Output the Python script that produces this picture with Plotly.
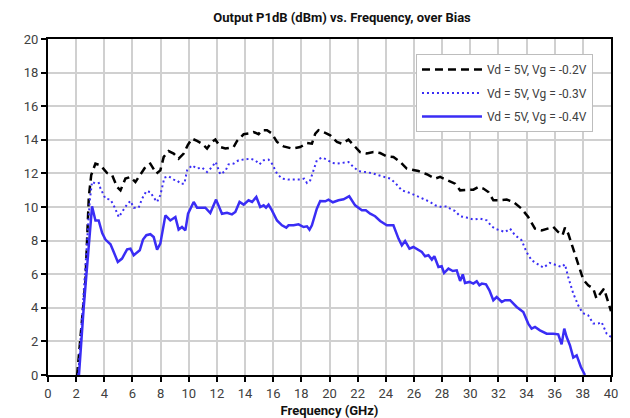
import plotly.graph_objects as go

title_text = "Output P1dB (dBm) vs. Frequency, over Bias"
x_title = "Frequency (GHz)"
names = ["Vd = 5V, Vg = -0.2V", "Vd = 5V, Vg = -0.3V", "Vd = 5V, Vg = -0.4V"]

f_02 = [2.07, 2.43, 2.66, 2.9, 3.07, 3.37, 3.73, 4.2, 4.56, 4.91, 5.15, 5.5, 5.86, 6.21, 6.61, 6.92, 7.27, 7.7, 7.98,
        8.22, 8.57, 8.93, 9.28, 9.64, 9.92, 10.23, 10.59, 10.94, 11.3, 11.65, 11.89, 12.24, 12.6, 13.19, 13.43, 13.9,
        14.25, 14.61, 14.96, 15.2, 15.56, 15.91, 16.27, 16.74, 17.33, 17.92, 18.4, 18.75, 18.99, 19.22, 19.7, 20.05,
        20.53, 20.88, 21.35, 21.7, 22.17, 22.65, 23.12, 23.6, 24.07, 24.54, 25.02, 25.49, 26.32, 26.91, 27.5, 27.86,
        28.45, 28.92, 29.28, 29.86, 30.22, 30.58, 30.93, 31.29, 31.64, 32.11, 32.59, 33.06, 33.65, 34.12, 34.6, 35.07,
        35.54, 35.9, 36.25, 36.56, 36.73, 36.96, 37.27, 37.67, 38.03, 38.38, 38.74, 38.97, 39.21, 39.5, 39.69, 40.0]
p_02 = [0.0, 3.3, 5.6, 10.6, 11.9, 12.58, 12.48, 12.02, 11.89, 11.19, 10.99, 11.69, 11.79, 11.49, 11.99, 12.38, 12.58,
        11.99, 12.18, 12.98, 13.33, 13.18, 12.88, 13.18, 13.67, 14.07, 13.93, 13.77, 13.48, 13.87, 14.02, 13.57, 13.48,
        13.57, 13.93, 14.33, 14.37, 14.46, 14.33, 14.57, 14.57, 14.37, 13.87, 13.61, 13.48, 13.57, 13.81, 13.77, 14.37,
        14.57, 14.41, 14.27, 13.87, 13.77, 14.01, 13.67, 13.27, 13.18, 13.27, 13.21, 13.02, 12.98, 12.68, 12.29, 12.14,
        11.95, 11.69, 11.79, 11.59, 11.39, 10.99, 10.99, 11.03, 11.19, 11.1, 10.89, 10.4, 10.4, 10.44, 10.3, 9.9, 9.4,
        8.71, 8.61, 8.71, 8.81, 8.51, 8.32, 8.77, 8.42, 7.62, 6.63, 5.68, 5.34, 5.14, 4.55, 4.85, 5.14, 4.64, 3.8]

f_03 = [2.15, 2.73, 2.97, 3.13, 3.37, 3.61, 3.73, 4.08, 4.44, 4.67, 5.03, 5.26, 5.62, 5.86, 6.09, 6.44, 6.69, 6.99, 7.27,
        7.51, 7.75, 7.98, 8.27, 8.57, 8.93, 9.17, 9.4, 9.69, 9.88, 10.23, 10.59, 10.94, 11.3, 11.65, 11.91, 12.24, 12.6,
        12.83, 13.19, 13.54, 13.9, 14.37, 14.73, 15.03, 15.32, 15.67, 15.91, 16.27, 16.62, 17.09, 17.57, 17.92, 18.2,
        18.4, 18.63, 18.87, 19.1, 19.46, 19.82, 20.18, 20.53, 20.88, 21.35, 21.7, 22.06, 22.54, 23.01, 23.48, 23.95,
        24.31, 24.66, 25.14, 25.73, 26.2, 26.79, 27.15, 27.5, 27.97, 28.33, 28.57, 28.92, 29.28, 29.75, 30.22, 30.69,
        31.17, 31.52, 31.76, 32.11, 32.47, 32.83, 33.18, 33.65, 34.0, 34.36, 34.72, 35.19, 35.66, 36.13, 36.49, 36.73,
        36.96, 37.32, 37.67, 37.98, 38.38, 38.74, 39.09, 39.33, 39.69, 40.0]
p_03 = [0.0, 7.6, 10.4, 11.5, 11.39, 11.43, 11.1, 10.5, 10.44, 10.1, 9.4, 9.7, 10.16, 10.36, 9.96, 9.96, 10.5, 10.95,
        10.89, 10.56, 10.3, 10.7, 11.75, 11.83, 11.63, 11.59, 11.39, 11.39, 12.18, 12.48, 12.29, 12.35, 12.08, 12.38,
        12.68, 11.95, 12.14, 12.54, 12.58, 12.78, 12.82, 12.88, 12.78, 12.54, 12.78, 12.82, 12.58, 11.99, 11.69, 11.63,
        11.63, 11.63, 11.69, 11.43, 11.59, 12.18, 12.78, 12.94, 12.82, 12.62, 12.58, 12.62, 12.68, 12.38, 12.14, 12.08,
        12.02, 11.89, 11.75, 11.69, 11.45, 10.99, 10.83, 10.64, 10.44, 10.3, 10.1, 10.0, 10.04, 9.9, 9.76, 9.45, 9.37,
        9.25, 9.31, 9.21, 8.85, 8.71, 8.61, 8.51, 8.71, 8.32, 8.02, 7.32, 6.83, 6.63, 6.39, 6.67, 6.53, 6.43, 6.59,
        5.83, 4.85, 4.15, 3.69, 3.55, 3.06, 3.06, 3.15, 2.46, 2.26]

f_04 = [2.2, 2.54, 3.13, 3.37, 3.6, 3.85, 4.08, 4.44, 4.67, 4.96, 5.26, 5.62, 5.86, 6.09, 6.52, 6.75, 6.99, 7.27, 7.51,
        7.75, 7.98, 8.34, 8.69, 9.05, 9.28, 9.52, 9.76, 9.95, 10.35, 10.59, 10.82, 11.18, 11.53, 11.94, 12.36, 12.72,
        13.07, 13.31, 13.61, 13.9, 14.25, 14.5, 14.8, 15.08, 15.32, 15.49, 15.67, 15.91, 16.27, 16.62, 16.93, 17.09,
        17.45, 17.8, 18.16, 18.4, 18.58, 18.75, 19.1, 19.34, 19.7, 19.93, 20.24, 20.64, 21.0, 21.4, 21.82, 22.3, 22.58,
        22.89, 23.24, 23.6, 24.07, 24.54, 24.9, 25.14, 25.37, 25.68, 25.96, 26.32, 26.56, 26.79, 27.03, 27.27, 27.45,
        27.74, 27.97, 28.14, 28.45, 28.76, 29.04, 29.28, 29.47, 29.63, 29.94, 30.22, 30.46, 30.65, 30.82, 31.12, 31.36,
        31.64, 31.88, 32.24, 32.47, 32.83, 33.3, 33.77, 34.12, 34.36, 34.6, 34.95, 35.43, 35.9, 36.25, 36.49, 36.68,
        36.85, 37.08, 37.32, 37.56, 37.86, 38.08, 38.15]
p_04 = [0.0, 4.05, 10.04, 9.2, 9.2, 8.45, 8.06, 7.78, 7.32, 6.73, 6.93, 7.48, 7.52, 7.13, 7.42, 8.06, 8.32, 8.38, 8.21,
        7.46, 7.82, 9.5, 9.2, 9.4, 8.65, 8.81, 8.61, 9.6, 10.3, 9.96, 9.96, 9.96, 9.64, 10.44, 9.6, 9.66, 9.56, 9.7,
        10.3, 10.14, 10.4, 10.3, 10.6, 10.0, 10.1, 9.96, 10.14, 9.8, 9.2, 8.91, 8.77, 8.91, 8.91, 8.97, 8.81, 8.85, 8.65,
        8.91, 9.9, 10.36, 10.34, 10.44, 10.28, 10.4, 10.46, 10.64, 10.1, 9.8, 9.8, 9.6, 9.45, 9.17, 8.91, 8.91, 8.12,
        7.72, 7.98, 7.52, 7.62, 7.42, 7.32, 7.07, 7.13, 6.87, 7.07, 6.43, 6.47, 6.07, 6.33, 6.19, 6.23, 5.6, 5.99, 5.48,
        5.54, 5.44, 5.58, 5.34, 5.44, 5.4, 5.04, 4.45, 4.64, 4.35, 4.45, 4.45, 4.05, 3.75, 3.06, 2.76, 2.86, 2.66, 2.46,
        2.46, 2.42, 1.83, 2.76, 2.26, 1.77, 1.04, 1.17, 0.48, 0.18, 0.0]

x_ticks = list(range(0, 41, 2))
y_ticks = list(range(0, 21, 2))

fig = go.Figure()
fig.add_trace(go.Scatter(x=f_02, y=p_02, mode="lines", name=names[0], legendgroup="a",
                         line=dict(color="black", width=2.5, dash="8px,5px")))
fig.add_trace(go.Scatter(x=f_03, y=p_03, mode="lines", name=names[1], legendgroup="b",
                         line=dict(color="#3a2df5", width=2, dash="2px,3px")))
fig.add_trace(go.Scatter(x=f_04, y=p_04, mode="lines", name=names[2], legendgroup="c",
                         line=dict(color="#3a2df5", width=2.5)))

axis_common = dict(showline=True, mirror=True, linecolor="black", linewidth=2,
                   showgrid=True, gridcolor="#d0d0d0", gridwidth=1.5, zeroline=False,
                   ticks="outside", ticklen=5, tickcolor="black", tickwidth=1.5,
                   automargin=False,
                   tickfont=dict(family="Roboto", size=13, color="#404040"))

# page body adds an 8px offset, so the figure is 8px smaller than the window
fig.update_layout(
    width=622, height=410,
    margin=dict(l=39.5, r=19, t=30.7, b=43.3),
    paper_bgcolor="white", plot_bgcolor="white",
    title=dict(text="<b>" + title_text + "</b>", x=0.537, xanchor="center", y=0.978, yanchor="middle",
               font=dict(family="Roboto", size=13, color="#111111")),
    xaxis=dict(range=[0, 40], tickvals=x_ticks, **axis_common,
               title=dict(text="<b>" + x_title + "</b>", standoff=6,
                          font=dict(family="Roboto", size=13, color="#111111"))),
    yaxis=dict(range=[0, 20], tickvals=y_ticks, **axis_common),
    legend=dict(x=0.968, xanchor="right", y=0.955, yanchor="top",
                bgcolor="white", bordercolor="#bdbdbd", borderwidth=1,
                tracegroupgap=4.5, itemwidth=60,
                font=dict(family="Roboto", size=12, color="#404040")),
    showlegend=True,
)

fig.write_html("out.html")
